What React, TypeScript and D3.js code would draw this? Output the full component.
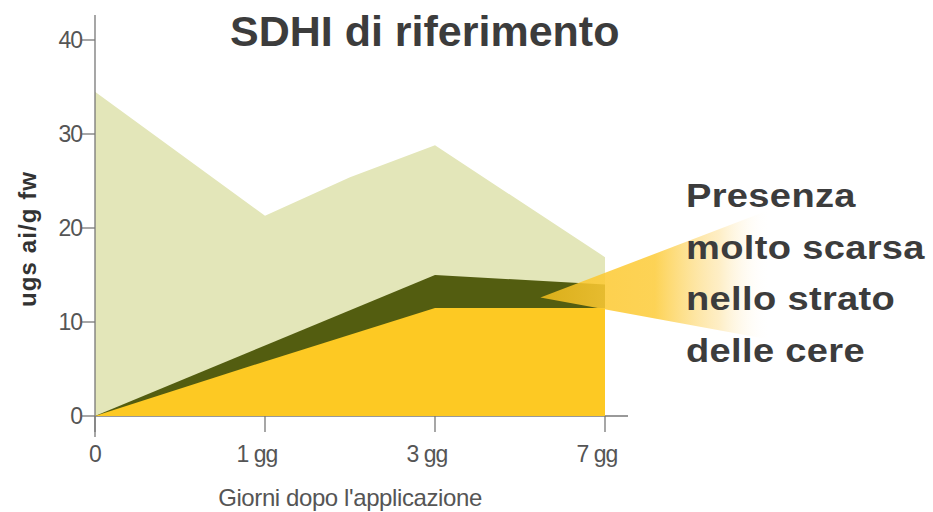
import { useEffect, useRef } from 'react'
import * as d3 from 'd3'

// x categories (days after application), placed on an index scale
const categories = ['0', '1 gg', '3 gg', '7 gg']
const catIndex = [0, 1, 2, 3]

// total residue (light green) – has an extra bend between 1 gg and 3 gg
const totalX = [0, 1, 1.5, 2, 3]
const totalY = [34.5, 21.3, 25.4, 28.8, 16.9]

// upper band (dark olive)
const waxY = [0, 7.5, 15.0, 14.0]
// inner tissue (yellow)
const innerY = [0, 5.8, 11.5, 11.5]

const yTicks = [0, 10, 20, 30, 40]

const calloutLines = ['Presenza', 'molto scarsa', 'nello strato', 'delle cere']

const W = 933
const H = 512
const FONT = '"Liberation Sans", Arial, Helvetica, sans-serif'

const App = () => {
  const ref = useRef<SVGSVGElement>(null)

  useEffect(() => {
    const svg = d3.select(ref.current)
    svg.selectAll('*').remove()

    const x = d3.scaleLinear().domain([0, 3]).range([95, 605])
    const y = d3.scaleLinear().domain([0, 40]).range([416, 40])

    const axisColor = '#777'
    const textColor = '#555'

    // x axis line + ticks (under the areas)
    const gx = svg.append('g')
    gx.append('line')
      .attr('x1', x(0)).attr('x2', x(3) + 23)
      .attr('y1', y(0)).attr('y2', y(0))
      .attr('stroke', axisColor).attr('stroke-width', 1.3)
    catIndex.forEach((c, i) => {
      gx.append('line')
        .attr('x1', x(c)).attr('x2', x(c))
        .attr('y1', y(0)).attr('y2', y(0) + 16)
        .attr('stroke', axisColor).attr('stroke-width', 1.3)
      gx.append('text')
        .attr('x', x(c))
        .attr('dx', i === 0 ? 0 : -8)
        .attr('y', 462)
        .attr('text-anchor', 'middle')
        .attr('font-family', FONT)
        .attr('font-size', 23)
        .attr('letter-spacing', -1)
        .attr('fill', textColor)
        .text(categories[i])
    })

    // areas
    const areaGen = d3.area<[number, number]>()
      .x((d) => x(d[0]))
      .y0(y(0))
      .y1((d) => y(d[1]))

    svg.append('path')
      .datum(totalX.map((v, i) => [v, totalY[i]] as [number, number]))
      .attr('fill', '#e3e6b9')
      .attr('d', areaGen)

    svg.append('path')
      .datum(catIndex.map((v, i) => [v, waxY[i]] as [number, number]))
      .attr('fill', '#535d10')
      .attr('d', areaGen)

    svg.append('path')
      .datum(catIndex.map((v, i) => [v, innerY[i]] as [number, number]))
      .attr('fill', '#fdc923')
      .attr('d', areaGen)

    // callout beam
    const defs = svg.append('defs')
    const grad = defs.append('linearGradient')
      .attr('id', 'beam')
      .attr('gradientUnits', 'userSpaceOnUse')
      .attr('x1', 540).attr('x2', 770).attr('y1', 0).attr('y2', 0)
    grad.append('stop').attr('offset', '0%').attr('stop-color', '#fcc31c').attr('stop-opacity', 0.8)
    grad.append('stop').attr('offset', '50%').attr('stop-color', '#fdcf47').attr('stop-opacity', 0.92)
    grad.append('stop').attr('offset', '78%').attr('stop-color', '#fde3a0').attr('stop-opacity', 0.6)
    grad.append('stop').attr('offset', '100%').attr('stop-color', '#ffffff').attr('stop-opacity', 0)

    const tipX = x(2.62)
    const tipY = y(12.6)
    svg.append('path')
      .attr('d', `M${tipX},${tipY} L${tipX + 230},${tipY - 88} L${tipX + 230},${tipY + 42} Z`)
      .attr('fill', 'url(#beam)')

    // y axis
    const gy = svg.append('g')
    gy.append('line')
      .attr('x1', x(0)).attr('x2', x(0))
      .attr('y1', 15).attr('y2', y(0) + 21)
      .attr('stroke', axisColor).attr('stroke-width', 1.3)
    yTicks.forEach((t) => {
      gy.append('line')
        .attr('x1', x(0) - 13).attr('x2', x(0))
        .attr('y1', y(t)).attr('y2', y(t))
        .attr('stroke', axisColor).attr('stroke-width', 1.3)
      gy.append('text')
        .attr('x', x(0) - 13)
        .attr('y', y(t))
        .attr('dy', '0.36em')
        .attr('text-anchor', 'end')
        .attr('font-family', FONT)
        .attr('font-size', 23)
        .attr('letter-spacing', -1)
        .attr('fill', textColor)
        .text(t)
    })

    // axis titles
    svg.append('text')
      .attr('transform', 'rotate(-90)')
      .attr('x', -239)
      .attr('y', 36)
      .attr('text-anchor', 'middle')
      .attr('font-family', FONT)
      .attr('font-weight', 'bold')
      .attr('font-size', 24)
      .attr('letter-spacing', 1.1)
      .attr('fill', '#333')
      .text('ugs ai/g fw')

    svg.append('text')
      .attr('x', (x(0) + x(3)) / 2)
      .attr('y', 506)
      .attr('text-anchor', 'middle')
      .attr('font-family', FONT)
      .attr('font-size', 24)
      .attr('letter-spacing', -0.4)
      .attr('fill', textColor)
      .text("Giorni dopo l'applicazione")

    // title
    svg.append('text')
      .attr('x', 230)
      .attr('y', 46)
      .attr('font-family', FONT)
      .attr('font-weight', 'bold')
      .attr('font-size', 43)
      .attr('fill', '#3c3c3c')
      .text('SDHI di riferimento')

    // callout text (wide glyphs: stretched horizontally)
    svg.append('g')
      .attr('transform', 'translate(686,0) scale(1.12,1)')
      .selectAll('text')
      .data(calloutLines)
      .join('text')
      .attr('x', 0)
      .attr('y', (_, i) => 207 + i * 51.7)
      .attr('font-family', FONT)
      .attr('font-weight', 'bold')
      .attr('font-size', 34)
      .attr('letter-spacing', 0.3)
      .attr('fill', '#3c3c3c')
      .text((d) => d)
  }, [])

  return (
    <svg
      ref={ref}
      width={W}
      height={H}
      style={{ position: 'absolute', left: 0, top: 0, background: '#fff' }}
    />
  )
}

export default App
